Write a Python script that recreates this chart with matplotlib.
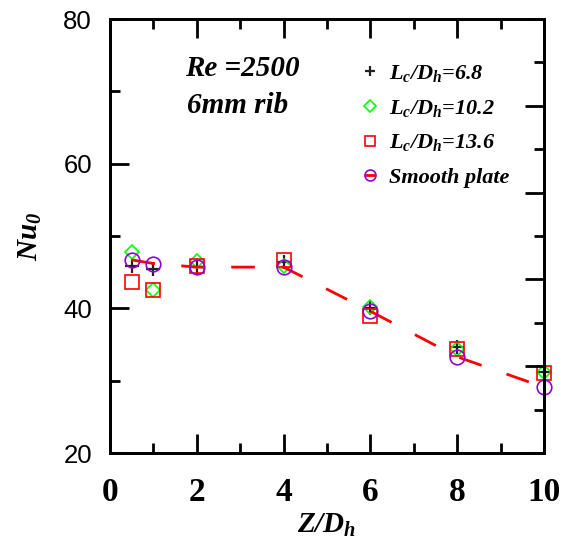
import numpy as np
import matplotlib
matplotlib.use("Agg")
import matplotlib.pyplot as plt
from matplotlib.ticker import MultipleLocator, NullFormatter

# ─── Data ─────────────────────────────────────────────────────────────────
z_dh = [0.5, 1, 2, 4, 6, 8, 10]
nu_68 = [45.9, 45.5, 45.7, 46.4, 40.0, 34.7, 31.2]
nu_102 = [47.8, 42.5, 46.6, 45.9, 40.2, 34.4, 31.2]
nu_136 = [43.6, 42.5, 45.9, 46.7, 39.0, 34.4, 31.1]
nu_smooth = [46.7, 46.2, 45.7, 45.7, 39.6, 33.3, 29.1]

labels = [r"$L_c/D_h$=6.8", r"$L_c/D_h$=10.2", r"$L_c/D_h$=13.6", "Smooth plate"]

plt.rcParams["font.family"] = "Liberation Serif"
plt.rcParams["mathtext.fontset"] = "custom"
plt.rcParams["mathtext.rm"] = "Liberation Serif:bold:italic"
plt.rcParams["mathtext.it"] = "Liberation Serif:bold:italic"
plt.rcParams["mathtext.bf"] = "Liberation Serif:bold:italic"
plt.rcParams["lines.scale_dashes"] = False

fig = plt.figure(figsize=(5.71, 5.43), dpi=100)
ax = fig.add_axes([0.1926, 0.1657, 0.7601, 0.7993])

ax.plot(z_dh, nu_68, ls="none", marker="+", ms=10, mew=1.6, color="#222222",
        label=labels[0], clip_on=False)
ax.plot(z_dh, nu_102, ls="none", marker="D", ms=7.5, mew=1.2, mfc="none",
        mec="#00ff00", label=labels[1], clip_on=False)
ax.plot(z_dh, nu_136, ls="none", marker="s", ms=10.5, mew=1.2, mfc="none",
        mec="#ff0000", label=labels[2], clip_on=False)
ax.plot(z_dh, nu_smooth, ls=(0, (17, 19)), lw=2, color="#ff0000",
        marker="o", ms=10.5, mew=1.2, mfc="none", mec="#9400d3",
        label=labels[3], clip_on=False)

ax.set_xlim(0, 10)
ax.set_ylim(20, 80)
ax.xaxis.set_major_locator(MultipleLocator(2))
ax.xaxis.set_minor_locator(MultipleLocator(1))
ax.yaxis.set_major_locator(MultipleLocator(20))
ax.yaxis.set_minor_locator(MultipleLocator(10))

for s in ax.spines.values():
    s.set_linewidth(2)
ax.tick_params(which="both", direction="in", width=2, top=True, right=False)
ax.tick_params(which="major", length=13.5)
ax.tick_params(which="minor", length=7)
ax.tick_params(axis="x", pad=17)
ax.tick_params(axis="y", pad=13)
for t in ax.get_xticklabels():
    t.set_fontfamily("Liberation Serif")
    t.set_fontweight("bold")
    t.set_fontsize(24)
for t in ax.get_yticklabels():
    t.set_fontfamily("Liberation Sans")
    t.set_fontsize(18.5)

# right-hand axis with its own tick spacing, no labels
ax2 = ax.twinx()
ax2.set_ylim(0, 10)
ax2.yaxis.set_major_locator(MultipleLocator(2))
ax2.yaxis.set_minor_locator(MultipleLocator(1))
ax2.yaxis.set_major_formatter(NullFormatter())
for s in ax2.spines.values():
    s.set_linewidth(2)
ax2.tick_params(which="both", direction="in", width=2)
ax2.tick_params(which="major", length=13.5)
ax2.tick_params(which="minor", length=7)

ax.set_xlabel(r"$Z/D_h$", fontsize=21, labelpad=3)
ax.set_ylabel(r"$Nu_0$", fontsize=21, labelpad=14)

ax.text(1.73, 72.1, "Re =2500", fontsize=21, fontweight="bold", style="italic")
ax.text(1.78, 67.0, "6mm rib", fontsize=21, fontweight="bold", style="italic")

leg = ax.legend(loc="upper left", bbox_to_anchor=(0.54, 0.945), frameon=False,
                handlelength=0.5, handletextpad=0.6,
                labelspacing=0.62, markerscale=0.75,
                prop={"family": "Liberation Serif", "weight": "bold",
                      "style": "italic", "size": 16})
leg.set_zorder(5)

fig.savefig("out.png", dpi=100)
